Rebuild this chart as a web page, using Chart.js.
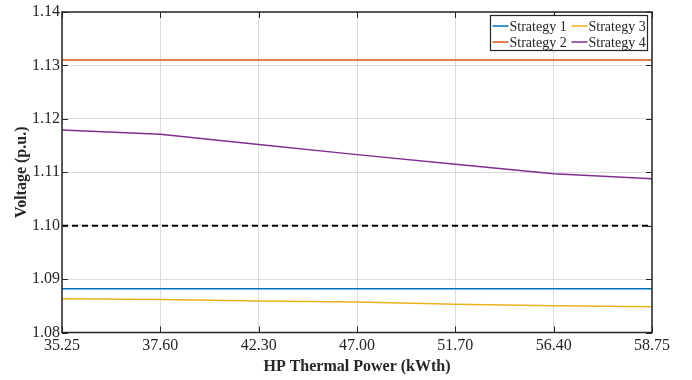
<!DOCTYPE html>
<html>
<head>
<meta charset="utf-8">
<script src="https://cdn.jsdelivr.net/npm/chart.js@4.4.0/dist/chart.umd.min.js"></script>
<style>
html,body{margin:0;padding:0;background:#fff;}
#wrap{width:692px;height:380px;}
</style>
</head>
<body>
<div id="wrap"><canvas id="voltChart"></canvas></div>
<script>
const powerLabels = ["35.25","37.60","42.30","47.00","51.70","56.40","58.75"];

const strategy1 = [1.0882,1.0882,1.0882,1.0882,1.0882,1.0882,1.0882];
const strategy2 = [1.1310,1.1310,1.1310,1.1310,1.1310,1.1310,1.1310];
const strategy3 = [1.0863,1.0862,1.0859,1.0857,1.0853,1.0850,1.0848];
const strategy4 = [1.1179,1.1171,1.1152,1.1133,1.1115,1.1097,1.1088];
const voltageLimit = [1.10,1.10,1.10,1.10,1.10,1.10,1.10];

const seriesNames = ["Strategy 1","Strategy 2","Strategy 3","Strategy 4"];
const seriesColors = ["#0072BD","#D95319","#EDB120","#7E2F8E"];

const axisColor = "#262626";
const serif = "'Liberation Serif','Times New Roman',serif";

// frame, inward tick marks and the boxed legend (matlab look)
const framePlugin = {
id:"frame",
afterDraw(chart){

const ctx = chart.ctx;
const a = chart.chartArea;
const xs = chart.scales.x;
const ys = chart.scales.y;
const tl = 6;

ctx.save();
ctx.strokeStyle = axisColor;
ctx.lineWidth = 1;

ctx.beginPath();
for(let i=0;i<xs.ticks.length;i++){
const px = Math.round(xs.getPixelForTick(i))+0.5;
ctx.moveTo(px,a.bottom); ctx.lineTo(px,a.bottom-tl);
ctx.moveTo(px,a.top); ctx.lineTo(px,a.top+tl);
}
for(let i=0;i<ys.ticks.length;i++){
const py = Math.round(ys.getPixelForTick(i))+0.5;
ctx.moveTo(a.left,py); ctx.lineTo(a.left+tl,py);
ctx.moveTo(a.right,py); ctx.lineTo(a.right-tl,py);
}
ctx.stroke();

ctx.lineWidth = 1.5;
ctx.strokeRect(a.left,a.top,a.right-a.left,a.bottom-a.top);

// legend: two columns, 1/2 on the left, 3/4 on the right
const bx = a.left+428.5;
const by = a.top+3.5;
const bw = 157;
const bh = 35;
ctx.fillStyle = "#fff";
ctx.fillRect(bx,by,bw,bh);
ctx.lineWidth = 1.2;
ctx.strokeRect(bx,by,bw,bh);

ctx.font = "14px "+serif;
ctx.textBaseline = "middle";
const cols = [bx+2,bx+81];
const rows = [by+10.5,by+26.5];
for(let k=0;k<4;k++){
const cx = cols[Math.floor(k/2)];
const cy = rows[k%2];
ctx.strokeStyle = seriesColors[k];
ctx.lineWidth = 1.5;
ctx.beginPath();
ctx.moveTo(cx,cy); ctx.lineTo(cx+16,cy);
ctx.stroke();
ctx.fillStyle = axisColor;
ctx.fillText(seriesNames[k],cx+17,cy+1);
}

ctx.restore();
}
};

const lineSets = [strategy1,strategy2,strategy3,strategy4].map((vals,k)=>({
label:seriesNames[k],
data:vals,
borderColor:seriesColors[k],
backgroundColor:seriesColors[k],
borderWidth:1.5,
pointRadius:0,
tension:0
}));

lineSets.push({
label:"limit",
data:voltageLimit,
borderColor:"#000",
borderWidth:2,
borderDash:[6,4],
pointRadius:0
});

new Chart(
document.getElementById("voltChart"),
{
type:"line",
data:{
labels:powerLabels,
datasets:lineSets
},
plugins:[framePlugin],
options:{
responsive:true,
maintainAspectRatio:false,
animation:false,
layout:{padding:{top:12,right:40,left:0,bottom:0}},
plugins:{
legend:{display:false},
tooltip:{enabled:false}
},
scales:{
x:{
type:"category",
offset:false,
grid:{color:"#dcdcdc",lineWidth:1,drawTicks:false},
border:{display:false},
ticks:{
color:axisColor,
padding:4,
maxRotation:0,
autoSkip:false,
font:{family:serif,size:16}
},
title:{
display:true,
text:"HP Thermal Power (kWth)",
color:axisColor,
padding:{top:4,bottom:4},
font:{family:serif,size:16,weight:"bold"}
},
afterFit(s){ s.height = 47.5; }
},
y:{
min:1.08,
max:1.14,
grid:{color:"#dcdcdc",lineWidth:1,drawTicks:false},
border:{display:false},
ticks:{
stepSize:0.01,
color:axisColor,
padding:2,
font:{family:serif,size:16},
callback:v=>Number(v).toFixed(2)
},
title:{
display:true,
text:"Voltage (p.u.)",
color:axisColor,
padding:{top:12,bottom:0},
font:{family:serif,size:16,weight:"bold"}
},
afterFit(s){ s.width = 62; }
}
}
}
}
);
</script>
</body>
</html>
